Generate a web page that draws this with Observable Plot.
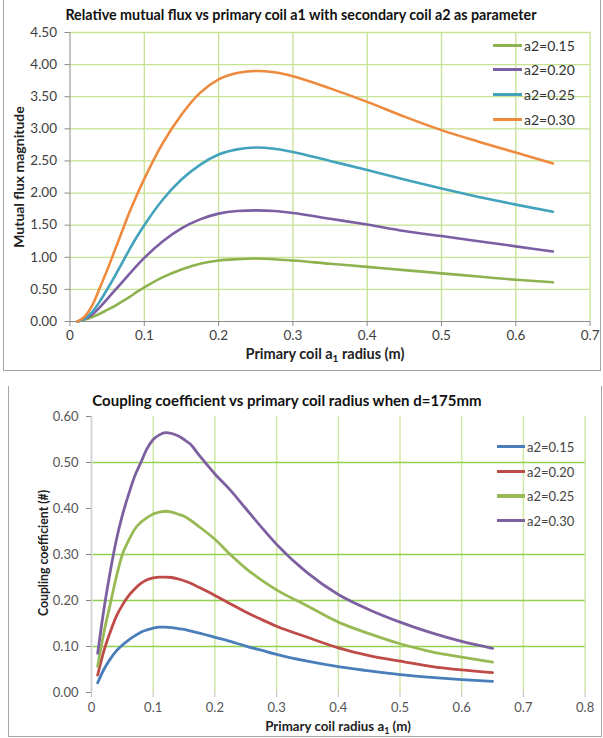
<!DOCTYPE html>
<html>
<head>
<meta charset="utf-8">
<script src="https://cdn.jsdelivr.net/npm/d3@7"></script>
<script src="https://cdn.jsdelivr.net/npm/@observablehq/plot@0.6"></script>
<style>
  html, body { margin: 0; padding: 0; background: #fff; }
  #wrap { position: relative; width: 603px; height: 738px; overflow: hidden; font-family: Lato, "Open Sans", sans-serif; }
  .t { position: absolute; white-space: nowrap; line-height: 1; }
  .leg { position: absolute; display: flex; align-items: center; white-space: nowrap; font-size: 14px; color: #333; }
  .leg span.sw { display: inline-block; width: 29px; margin-right: 2px; }
  .border { position: absolute; background: #a6a6a6; }
</style>
</head>
<body>
<div id="wrap"></div>
<script>
// ---------- Chart 1: relative mutual flux ----------
const fluxTitle = "Relative mutual flux vs primary coil a1 with secondary coil a2 as parameter";
const fluxSeries = ["a2=0.15", "a2=0.20", "a2=0.25", "a2=0.30"];
const fluxColors = ["#8db24f", "#7b5ea3", "#43a3bd", "#ee8a3e"];
const fluxXTicks = [0, 0.1, 0.2, 0.3, 0.4, 0.5, 0.6, 0.7];
const fluxXTickLabels = ["0", "0.1", "0.2", "0.3", "0.4", "0.5", "0.6", "0.7"];
const fluxYTicks = [0, 0.5, 1.0, 1.5, 2.0, 2.5, 3.0, 3.5, 4.0, 4.5];
const fluxX = [0.01,0.02,0.03,0.04,0.05,0.06,0.07,0.08,0.09,0.1,0.125,0.15,0.175,0.2,0.225,0.25,0.275,0.3,0.35,0.4,0.45,0.5,0.55,0.6,0.65];
const fluxA015 = [0.00,0.03,0.07,0.12,0.18,0.24,0.31,0.38,0.46,0.53,0.69,0.81,0.90,0.95,0.97,0.98,0.97,0.95,0.90,0.85,0.80,0.75,0.70,0.65,0.61];
const fluxA020 = [0.00,0.04,0.11,0.22,0.35,0.48,0.61,0.74,0.87,0.99,1.25,1.45,1.59,1.68,1.72,1.73,1.72,1.69,1.60,1.51,1.41,1.33,1.25,1.17,1.09];
const fluxA025 = [0.00,0.05,0.15,0.31,0.50,0.70,0.91,1.12,1.32,1.50,1.90,2.21,2.44,2.60,2.68,2.71,2.69,2.64,2.50,2.36,2.21,2.07,1.94,1.82,1.71];
const fluxA030 = [0.00,0.08,0.25,0.52,0.80,1.10,1.40,1.70,1.97,2.22,2.78,3.22,3.56,3.77,3.87,3.90,3.88,3.82,3.63,3.42,3.19,2.98,2.80,2.63,2.46];

// ---------- Chart 2: coupling coefficient ----------
const kTitle = "Coupling coefficient vs primary coil radius when d=175mm";
const kSeries = ["a2=0.15", "a2=0.20", "a2=0.25", "a2=0.30"];
const kColors = ["#4a7ebb", "#be4b48", "#98b954", "#7d60a0"];
const kXTicks = [0, 0.1, 0.2, 0.3, 0.4, 0.5, 0.6, 0.7, 0.8];
const kXTickLabels = ["0", "0.1", "0.2", "0.3", "0.4", "0.5", "0.6", "0.7", "0.8"];
const kYTicks = [0, 0.1, 0.2, 0.3, 0.4, 0.5, 0.6];
const kYGrid = [0.1, 0.2, 0.3, 0.5];
const kX = [0.01,0.02,0.03,0.04,0.05,0.06,0.07,0.08,0.09,0.1,0.11,0.12,0.13,0.14,0.15,0.16,0.175,0.2,0.225,0.25,0.275,0.3,0.35,0.4,0.45,0.5,0.55,0.6,0.65];
const kA015 = [0.021,0.05,0.072,0.09,0.103,0.114,0.123,0.131,0.136,0.14,0.142,0.142,0.141,0.139,0.137,0.134,0.129,0.12,0.111,0.101,0.092,0.083,0.068,0.056,0.047,0.039,0.033,0.028,0.024];
const kA020 = [0.038,0.09,0.13,0.165,0.19,0.21,0.225,0.237,0.245,0.249,0.251,0.251,0.25,0.247,0.243,0.238,0.228,0.211,0.193,0.175,0.159,0.144,0.12,0.097,0.08,0.068,0.057,0.049,0.043];
const kA025 = [0.057,0.13,0.19,0.25,0.30,0.33,0.355,0.37,0.38,0.388,0.392,0.394,0.392,0.388,0.383,0.375,0.36,0.333,0.30,0.27,0.245,0.223,0.188,0.153,0.128,0.106,0.089,0.077,0.066];
const kA030 = [0.085,0.18,0.26,0.33,0.385,0.43,0.47,0.50,0.53,0.55,0.56,0.565,0.563,0.558,0.55,0.54,0.515,0.475,0.44,0.40,0.36,0.322,0.26,0.213,0.18,0.153,0.13,0.111,0.096];

function tidy(xs, seriesNames, arrays) {
  const out = [];
  seriesNames.forEach((s, i) => arrays[i].forEach((v, j) => out.push({series: s, x: xs[j], y: v})));
  return out;
}
const fluxData = tidy(fluxX, fluxSeries, [fluxA015, fluxA020, fluxA025, fluxA030]);
const kData = tidy(kX, kSeries, [kA015, kA020, kA025, kA030]);

const wrap = document.getElementById("wrap");
function el(cls, css, text) {
  const d = document.createElement("div");
  d.className = cls;
  Object.assign(d.style, css);
  if (text != null) d.textContent = text;
  wrap.appendChild(d);
  return d;
}

// ---- top plot ----
const fluxPlot = Plot.plot({
  width: 603, height: 370,
  marginLeft: 69.5, marginRight: 13.4, marginTop: 32, marginBottom: 49,
  style: {fontFamily: "Lato, sans-serif", fontSize: "13.5px", color: "#404040", background: "transparent"},
  x: {domain: [0, 0.7], label: null},
  y: {domain: [0, 4.5], label: null},
  color: {domain: fluxSeries, range: fluxColors},
  marks: [
    Plot.gridX(fluxXTicks.slice(1), {stroke: "#c6e192", strokeOpacity: 1, strokeWidth: 1.3}),
    Plot.gridY(fluxYTicks.slice(1), {stroke: "#c6e192", strokeOpacity: 1, strokeWidth: 1.3}),
    Plot.ruleY([0], {stroke: "#8a8a8a"}),
    Plot.ruleX([0], {stroke: "#8a8a8a"}),
    Plot.axisX(fluxXTicks, {tickSize: 5, tickPadding: 4, stroke: "#8a8a8a", tickFormat: (d, i) => fluxXTickLabels[i], fill: "#404040"}),
    Plot.axisY(fluxYTicks, {tickSize: 5, tickPadding: 8, stroke: "#8a8a8a", tickFormat: d3.format(".2f"), fill: "#404040"}),
    Plot.line(fluxData, {x: "x", y: "y", z: "series", stroke: "series", strokeWidth: 2.6, curve: "monotone-x"})
  ]
});
fluxPlot.style.position = "absolute";
fluxPlot.style.left = "0px";
fluxPlot.style.top = "0px";
wrap.appendChild(fluxPlot);

// ---- bottom plot ----
const kPlot = Plot.plot({
  width: 603, height: 368,
  marginLeft: 91, marginRight: 18.4, marginTop: 46, marginBottom: 46,
  style: {fontFamily: "Lato, sans-serif", fontSize: "13px", color: "#555", background: "transparent"},
  x: {domain: [0, 0.8], label: null},
  y: {domain: [0, 0.6], label: null},
  color: {domain: kSeries, range: kColors},
  marks: [
    Plot.gridX(kXTicks.slice(1), {stroke: "#cfe8a6", strokeOpacity: 1, strokeWidth: 1.5}),
    Plot.gridY(kYGrid, {stroke: "#92d050", strokeOpacity: 1, strokeWidth: 1.3}),
    Plot.ruleX([0], {stroke: "#d6d6d6", strokeWidth: 2}),
    Plot.axisX(kXTicks, {tickSize: 5, tickPadding: 5, stroke: "#bdbdbd", tickFormat: (d, i) => kXTickLabels[i], fill: "#555"}),
    Plot.axisY(kYTicks, {tickSize: 5, tickPadding: 8, stroke: "#8a8a8a", tickFormat: d3.format(".2f"), fill: "#555"}),
    Plot.line(kData, {x: "x", y: "y", z: "series", stroke: "series", strokeWidth: 2.8, curve: "monotone-x"})
  ]
});
kPlot.style.position = "absolute";
kPlot.style.left = "0px";
kPlot.style.top = "370px";
wrap.appendChild(kPlot);

// ---- borders ----
el("border", {left: "3px", top: "0px", width: "1px", height: "371px"});
el("border", {left: "3px", top: "370px", width: "598px", height: "1px"});
el("border", {left: "600px", top: "0px", width: "1px", height: "371px"});
el("border", {left: "8px", top: "386px", width: "1px", height: "351px"});
el("border", {left: "601px", top: "386px", width: "1px", height: "351px"});
el("border", {left: "8px", top: "736px", width: "594px", height: "1px"});

// ---- texts: top chart ----
el("t", {left: "301px", top: "15px", transform: "translate(-50%,-50%)", fontWeight: "700", fontSize: "14.3px", color: "#111"}, fluxTitle);
el("t", {left: "19px", top: "177px", transform: "translate(-50%,-50%) rotate(-90deg)", fontWeight: "700", fontSize: "14px", color: "#222"}, "Mutual flux magnitude");
const xt1 = el("t", {left: "325px", top: "355px", transform: "translate(-50%,-50%)", fontWeight: "700", fontSize: "14.5px", color: "#222"});
xt1.innerHTML = "Primary coil a<sub style=\"font-size:10px;vertical-align:-3px\">1</sub> radius (m)";

// ---- texts: bottom chart ----
el("t", {left: "287px", top: "400px", transform: "translate(-50%,-50%)", fontWeight: "700", fontSize: "15px", color: "#111"}, kTitle);
el("t", {left: "44px", top: "553px", transform: "translate(-50%,-50%) rotate(-90deg)", fontWeight: "700", fontSize: "12.3px", color: "#222"}, "Coupling coefficient (#)");
const xt2 = el("t", {left: "338px", top: "727px", transform: "translate(-50%,-50%)", fontWeight: "700", fontSize: "13.3px", color: "#222"});
xt2.innerHTML = "Primary coil radius a<sub style=\"font-size:9px;vertical-align:-3px\">1</sub> (m)";

// ---- legends ----
const fluxLegY = [45, 69.5, 94, 119];
fluxSeries.forEach((s, i) => {
  const d = el("leg", {left: "493px", top: (fluxLegY[i] - 8) + "px", height: "16px"});
  d.innerHTML = `<span class="sw" style="height:3px;background:${fluxColors[i]}"></span>${s}`;
});
const kLegY = [446.7, 471.7, 496, 520.7];
kSeries.forEach((s, i) => {
  const d = el("leg", {left: "497px", top: (kLegY[i] - 8) + "px", height: "16px", fontSize: "13px", color: "#444"});
  d.innerHTML = `<span class="sw" style="width:28px;height:${i >= 2 ? 3.5 : 2.5}px;background:${kColors[i]}"></span>${s}`;
});
</script>
</body>
</html>
